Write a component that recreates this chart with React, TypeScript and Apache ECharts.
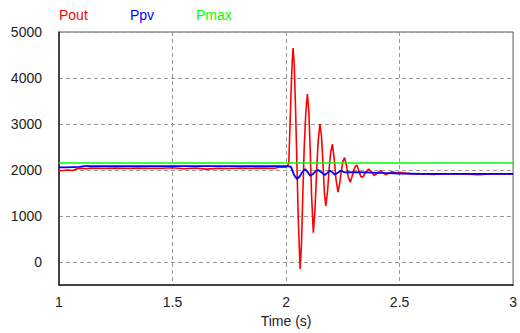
import React, { useEffect, useRef } from "react";
import * as echarts from "echarts";

const xTicks = [1, 1.5, 2, 2.5, 3];
const yTicks = [0, 1000, 2000, 3000, 4000, 5000];

const poutTime = [
  1.0, 1.02, 1.04, 1.06, 1.08, 1.1, 1.12, 1.14, 1.2, 1.25, 1.3, 1.35, 1.4, 1.45, 1.5, 1.55, 1.6, 1.65, 1.7, 1.75, 1.8, 1.85, 1.9,
  1.95, 1.97, 2.0, 2.006, 2.012, 2.017, 2.022, 2.027, 2.031, 2.036, 2.042, 2.048, 2.054, 2.062, 2.068, 2.074, 2.08, 2.087, 2.094,
  2.1, 2.106, 2.112, 2.12, 2.127, 2.134, 2.141, 2.149, 2.156, 2.163, 2.169, 2.175, 2.183, 2.19, 2.197, 2.204, 2.212, 2.22, 2.229,
  2.236, 2.244, 2.251, 2.258, 2.266, 2.274, 2.283, 2.29, 2.298, 2.305, 2.312, 2.32, 2.329, 2.338, 2.35, 2.364, 2.376, 2.388, 2.4,
  2.417, 2.428, 2.439, 2.453, 2.468, 2.485, 2.5, 2.55, 2.6, 2.65, 2.7, 2.75, 2.8, 2.85, 2.9, 2.95, 3.0,
];
const poutValues = [
  1985, 1990, 2000, 1990, 2030, 2040, 2030, 2045, 2040, 2045, 2040, 2045, 2040, 2040, 2050, 2030, 2045, 2020, 2040, 2035, 2045, 2040, 2045,
  2040, 2060, 2060, 2090, 2150, 2900, 3700, 4350, 4650, 4300, 3300, 2100, 900, -150, 400, 1500, 2500, 3250, 3650,
  3300, 2500, 1500, 640, 1100, 1900, 2600, 3000, 2750, 2100, 1500, 1220, 1550, 2050, 2400, 2560, 2250, 1800, 1520,
  1700, 2000, 2200, 2270, 2100, 1850, 1735, 1850, 2000, 2080, 2110, 1990, 1860, 1845, 1950, 2020, 1960, 1880, 1930,
  1985, 1940, 1900, 1930, 1965, 1935, 1950, 1920, 1915, 1905, 1920, 1915, 1910, 1900, 1915, 1915, 1910,
];

const ppvTime = [
  1.0, 1.03, 1.06, 1.09, 1.11, 1.2, 1.5, 1.8, 2.0, 2.015, 2.022, 2.035, 2.048, 2.06, 2.072, 2.084, 2.095, 2.106, 2.12, 2.132,
  2.142, 2.158, 2.171, 2.182, 2.193, 2.204, 2.214, 2.228, 2.24, 2.26, 2.3, 2.35, 2.4, 2.45, 2.5, 2.6, 3.0,
];
const ppvValues = [
  2058, 2060, 2065, 2070, 2085, 2085, 2085, 2085, 2085, 2080, 2065, 1900, 1806, 1860, 1960, 2020, 1960, 1877, 1920, 1980,
  2000, 1940, 1892, 1940, 1985, 1950, 1900, 1940, 1985, 1950, 1955, 1950, 1940, 1935, 1925, 1915, 1915,
];

const pmaxTime = [1.0, 3.0];
const pmaxValues = [2155, 2155];

const seriesNames = ["Pout", "Ppv", "Pmax"];
const seriesColors = ["#ff0000", "#0000ff", "#00ff00"];

const pairs = (t: number[], v: number[]) => t.map((x, i) => [x, v[i]]);

export default function App() {
  const ref = useRef<HTMLDivElement>(null);
  useEffect(() => {
    if (!ref.current) return;
    const chart = echarts.init(ref.current, null, { renderer: "svg" });
    const font = "Liberation Sans, Arial, sans-serif";
    const legendX = [59, 130, 196];
    chart.setOption({
      animation: false,
      backgroundColor: "#ffffff",
      grid: {
        left: 59,
        right: 1,
        top: 32,
        bottom: 45.5,
        show: true,
        borderColor: "#555",
        borderWidth: 1,
      },
      graphic: seriesNames.map((n, i) => ({
        type: "text",
        left: legendX[i],
        top: 8,
        style: { text: n, fill: seriesColors[i], font: `14px ${font}` },
      })),
      xAxis: {
        type: "value",
        min: 1,
        max: 3,
        interval: 0.5,
        name: "Time (s)",
        nameLocation: "middle",
        nameGap: 27,
        nameTextStyle: { color: "#222", fontSize: 14, fontFamily: font },
        axisLine: { show: true, onZero: false, lineStyle: { color: "#222", width: 1.5 } },
        axisTick: { show: false, customValues: xTicks },
        axisLabel: {
          color: "#222",
          fontSize: 14,
          fontFamily: font,
          margin: 10,
          customValues: xTicks,
          formatter: (v: number) => String(v),
        },
        splitLine: { show: true, lineStyle: { color: "#999", type: [4, 3], width: 1 } },
      },
      yAxis: {
        type: "value",
        min: -500,
        max: 5000,
        axisLine: { show: true, lineStyle: { color: "#222", width: 1.5 } },
        axisTick: { show: false, customValues: yTicks },
        axisLabel: {
          color: "#222",
          fontSize: 14,
          fontFamily: font,
          margin: 17,
          customValues: yTicks,
          formatter: (v: number) => String(v),
        },
        splitLine: { show: true, lineStyle: { color: "#999", type: [4, 3], width: 1 } },
      },
      series: [
        {
          name: "Pout",
          type: "line",
          data: pairs(poutTime, poutValues),
          showSymbol: false,
          lineStyle: { color: seriesColors[0], width: 1.6 },
        },
        {
          name: "Ppv",
          type: "line",
          data: pairs(ppvTime, ppvValues),
          showSymbol: false,
          lineStyle: { color: seriesColors[1], width: 1.8 },
        },
        {
          name: "Pmax",
          type: "line",
          data: pairs(pmaxTime, pmaxValues),
          showSymbol: false,
          lineStyle: { color: seriesColors[2], width: 1.5 },
        },
      ],
    });
    return () => chart.dispose();
  }, []);
  return <div ref={ref} style={{ width: 520, height: 333, position: "absolute", left: 0, top: 0 }} />;
}
